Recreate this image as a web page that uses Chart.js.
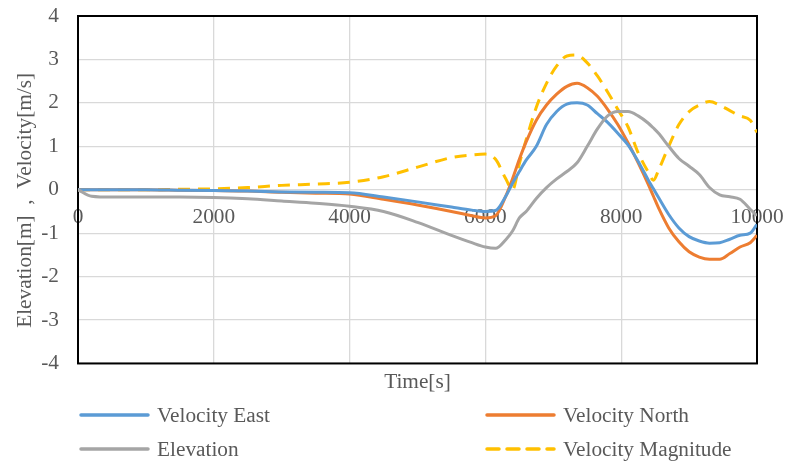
<!DOCTYPE html>
<html>
<head>
<meta charset="utf-8">
<script src="https://cdn.jsdelivr.net/npm/chart.js@4.4.1/dist/chart.umd.min.js"></script>
<style>
  body { margin: 0; background: #fff; }
  #wrap { position: relative; width: 789px; height: 469px; }
  .leg { position: absolute; display: flex; align-items: center; font-family: "Liberation Serif", "Times New Roman", serif; font-size: 21.3px; color: #595959; white-space: nowrap; }
  .leg svg { margin-right: 7px; }
</style>
</head>
<body>
<div id="wrap">
  <canvas id="chart" width="789" height="469"></canvas>
  <div id="legend"></div>
</div>
<script>
// 時間軸 [s]
const times = [0, 200, 500, 1000, 1500, 2000, 2500, 3000, 3500, 4000, 4500, 5000, 5500, 5800, 6000, 6150, 6300, 6400, 6500, 6600, 6750, 6900, 7050, 7200, 7350, 7500, 7650, 7800, 7950, 8100, 8250, 8400, 8475, 8550, 8700, 8850, 9000, 9150, 9300, 9450, 9600, 9750, 9900, 10000];

const velocityEast = [0, 0, 0, 0, -0.01, -0.02, -0.03, -0.05, -0.06, -0.07, -0.17, -0.28, -0.4, -0.47, -0.5, -0.48, -0.15, 0.15, 0.42, 0.68, 1.0, 1.5, 1.8, 1.97, 2.0, 1.95, 1.75, 1.55, 1.3, 1.03, 0.65, 0.22, 0.02, -0.18, -0.57, -0.88, -1.08, -1.18, -1.23, -1.22, -1.14, -1.05, -1.0, -0.8];

const velocityNorth = [0, 0, 0, 0, -0.01, -0.02, -0.03, -0.06, -0.08, -0.1, -0.22, -0.35, -0.5, -0.6, -0.65, -0.6, -0.15, 0.25, 0.7, 1.1, 1.6, 1.95, 2.2, 2.38, 2.45, 2.35, 2.15, 1.85, 1.5, 1.08, 0.62, 0.12, -0.15, -0.42, -0.88, -1.2, -1.43, -1.55, -1.6, -1.6, -1.47, -1.32, -1.22, -1.05];

const elevation = [0, -0.15, -0.17, -0.17, -0.17, -0.18, -0.21, -0.26, -0.31, -0.38, -0.5, -0.75, -1.05, -1.22, -1.32, -1.35, -1.15, -0.95, -0.65, -0.5, -0.2, 0.05, 0.25, 0.42, 0.62, 1.0, 1.4, 1.7, 1.8, 1.8, 1.7, 1.53, 1.42, 1.3, 1.0, 0.72, 0.54, 0.35, 0.05, -0.12, -0.16, -0.22, -0.45, -0.6];

const velocityMagnitude = [0, 0, 0, 0, 0.01, 0.02, 0.05, 0.1, 0.13, 0.17, 0.3, 0.52, 0.74, 0.8, 0.82, 0.7, 0.25, 0.0, 0.6, 1.15, 1.9, 2.45, 2.85, 3.08, 3.1, 2.92, 2.62, 2.25, 1.85, 1.45, 0.85, 0.4, 0.22, 0.45, 1.0, 1.5, 1.8, 1.95, 2.03, 1.95, 1.82, 1.7, 1.6, 1.32];

const seriesNames = ["Velocity East", "Velocity North", "Elevation", "Velocity Magnitude"];
const seriesColors = ["#5B9BD5", "#ED7D31", "#A5A5A5", "#FFC000"];

const FONT = "'Liberation Serif', 'Times New Roman', serif";
const TEXT = "#595959";
const SIZE = 21.3;

function toPoints(values) {
  return times.map((t, i) => ({ x: t, y: values[i] }));
}

// 軸ラベルのはみ出し分の余白を無効化して、レイアウトの余白だけで位置を決める
function noPadding(scale) {
  scale.paddingLeft = 0;
  scale.paddingRight = 0;
  scale.paddingTop = 0;
  scale.paddingBottom = 0;
}

const allValues = [velocityEast, velocityNorth, elevation, velocityMagnitude];

const datasets = allValues.map((v, i) => ({
  label: seriesNames[i],
  data: toPoints(v),
  borderColor: seriesColors[i],
  borderWidth: 3,
  borderDash: i === 3 ? [12, 8] : [],
  pointRadius: 0,
  cubicInterpolationMode: "monotone",
  fill: false,
}));

// プロットエリアの黒枠
const frame = {
  id: "frame",
  beforeDatasetsDraw(chart) {
    const { ctx, chartArea } = chart;
    ctx.save();
    ctx.strokeStyle = "#000";
    ctx.lineWidth = 2;
    ctx.strokeRect(chartArea.left, chartArea.top, chartArea.right - chartArea.left, chartArea.bottom - chartArea.top);
    ctx.restore();
  },
};

const chart = new Chart(document.getElementById("chart"), {
  type: "line",
  data: { datasets: [datasets[2], datasets[0], datasets[1], datasets[3]] },
  options: {
    responsive: false,
    animation: false,
    layout: { padding: { top: 16, right: 32, bottom: 74, left: 0 } },
    plugins: { legend: { display: false }, tooltip: { enabled: false } },
    scales: {
      x: {
        type: "linear",
        position: { y: 0 },
        min: 0,
        max: 10000,
        grid: { color: "#d9d9d9", lineWidth: 1.3, drawTicks: false },
        border: { display: false },
        ticks: {
          stepSize: 2000,
          autoSkip: false,
          maxRotation: 0,
          padding: 15,
          color: TEXT,
          font: { family: FONT, size: SIZE },
          callback: (v) => String(v),
        },
        afterFit: noPadding,
      },
      x2: {
        type: "linear",
        position: "bottom",
        min: 0,
        max: 10000,
        grid: { display: false, drawTicks: false },
        border: { display: false },
        ticks: { display: false },
        title: {
          display: true,
          text: "Time[s]",
          color: TEXT,
          font: { family: FONT, size: SIZE },
          padding: { top: 6, bottom: 0 },
        },
        afterFit: noPadding,
      },
      y: {
        min: -4,
        max: 4,
        grid: { color: "#d9d9d9", lineWidth: 1.3, drawTicks: false },
        border: { display: false },
        ticks: {
          stepSize: 1,
          padding: 19,
          color: TEXT,
          font: { family: FONT, size: SIZE },
        },
        title: {
          display: true,
          text: "Elevation[m]  ,  Velocity[m/s]    ",
          color: TEXT,
          font: { family: FONT, size: SIZE },
          padding: { top: 13, bottom: 0 },
        },
        afterFit(scale) {
          noPadding(scale);
          scale.width = 78;
        },
      },
    },
  },
  plugins: [frame],
});

// 凡例（2列）
const legendPos = [
  { left: 79, top: 415 },
  { left: 485, top: 415 },
  { left: 79, top: 449 },
  { left: 485, top: 449 },
];
const legendEl = document.getElementById("legend");
legendPos.forEach((p, idx) => {
  const dash = idx === 3 ? 'stroke-dasharray="12 8"' : "";
  const item = document.createElement("div");
  item.className = "leg";
  item.style.left = p.left + "px";
  item.style.top = (p.top - 14) + "px";
  item.style.height = "28px";
  item.innerHTML =
    '<svg width="71" height="8"><line x1="2" y1="4" x2="69" y2="4" stroke="' + seriesColors[idx] +
    '" stroke-width="3.5" stroke-linecap="round" ' + dash + '/></svg><span>' + seriesNames[idx] + "</span>";
  legendEl.appendChild(item);
});
</script>
</body>
</html>
